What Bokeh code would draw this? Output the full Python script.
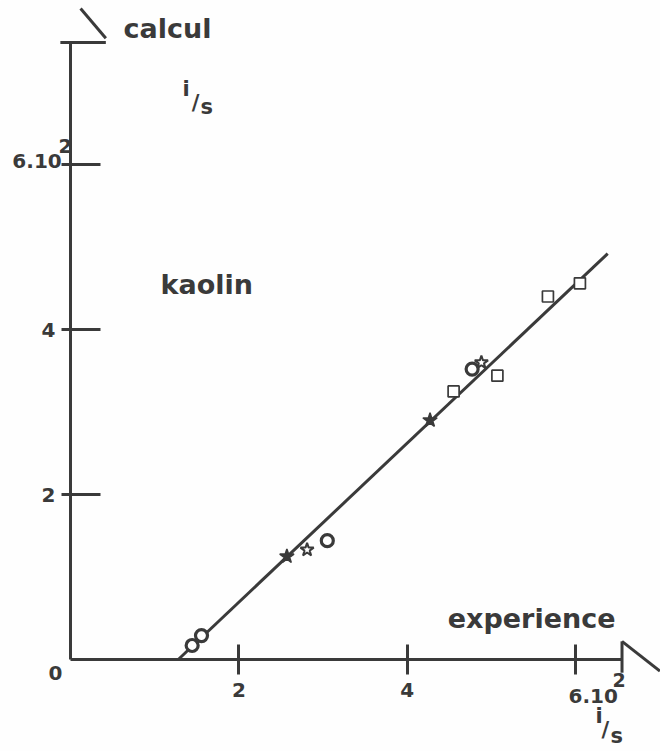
from bokeh.plotting import figure
from bokeh.models import LinearAxis, FixedTicker
from bokeh.core.properties import value
from bokeh.embed import file_html
from bokeh.resources import INLINE

# measured points, grouped by sample series (i/s, units of 10^2)
circle_x = [1.445, 1.556, 3.05, 4.77]
circle_y = [0.17, 0.29, 1.44, 3.52]
star_filled_x = [2.57, 4.27]
star_filled_y = [1.25, 2.90]
star_open_x = [2.81, 4.88]
star_open_y = [1.33, 3.60]
square_x = [4.55, 5.07, 5.67, 6.05]
square_y = [3.25, 3.44, 4.40, 4.56]

# fitted line (calcul vs experience)
fit_x = [1.28, 6.38]
fit_y = [0.0, 4.92]

# axis ticks and labels
x_ticks = [2, 4, 6]
y_ticks = [2, 4, 6]
x_tick_labels = {2: "2", 4: "4", 6: ""}
y_tick_labels = {2: "2", 4: "4", 6: ""}
x_axis_end = 6.55
y_axis_end = 7.48

INK = "#3a3a3a"
FONT = value("DejaVu Sans")

p = figure(width=660, height=751, x_range=(-0.831, 7.007), y_range=(-1.115, 7.988),
           x_axis_type=None, y_axis_type=None, toolbar_location=None,
           output_backend="svg", min_border=0, background_fill_color="#fefefe",
           border_fill_color="#fefefe", outline_line_color=None)
p.grid.visible = False

axis_style = dict(axis_line_color=INK, axis_line_width=3,
                  major_tick_line_color=INK, major_tick_line_width=3,
                  minor_tick_line_color=None,
                  major_label_text_font="DejaVu Sans",
                  major_label_text_font_style="bold",
                  major_label_text_font_size="20px",
                  major_label_text_color=INK)

yaxis = LinearAxis(fixed_location=0, bounds=(0, y_axis_end),
                   ticker=FixedTicker(ticks=y_ticks),
                   major_label_overrides=y_tick_labels,
                   major_tick_in=30, major_tick_out=9, major_label_standoff=6,
                   **axis_style)
p.add_layout(yaxis, "left")

xaxis = LinearAxis(fixed_location=0, bounds=(0, x_axis_end),
                   ticker=FixedTicker(ticks=x_ticks),
                   major_label_overrides=x_tick_labels,
                   major_tick_in=15, major_tick_out=15, major_label_standoff=8,
                   **axis_style)
p.add_layout(xaxis, "below")

# half-arrow heads at the axis ends
p.segment(x0=[-0.12, 0.42], y0=[y_axis_end, y_axis_end + 0.05],
          x1=[0.42, 0.12], y1=[y_axis_end, 7.89],
          line_color=INK, line_width=3)
p.segment(x0=[x_axis_end, x_axis_end], y0=[-0.16, 0.22],
          x1=[x_axis_end, 7.0], y1=[0.22, -0.14],
          line_color=INK, line_width=3)

# fitted line
p.line(fit_x, fit_y, line_color=INK, line_width=3)

# data points
p.scatter(square_x, square_y, marker="square", size=11, line_width=1.7,
          line_color=INK, fill_color="white")
p.scatter(circle_x, circle_y, marker="circle", size=12, line_width=3.2,
          line_color=INK, fill_color="white")
p.scatter(star_open_x, star_open_y, marker="star", size=14, line_width=2,
          line_color=INK, fill_color="white")
p.scatter(star_filled_x, star_filled_y, marker="star", size=15, line_width=1.5,
          line_color=INK, fill_color=INK)

# text annotations
def label(x, y, txt, size="27px"):
    p.text(x=[x], y=[y], text=[txt], text_font=FONT, text_font_style="bold",
           text_font_size=size, text_color=INK, text_align="left",
           text_baseline="alphabetic")

label(0.63, 7.65, "calcul")
label(1.33, 6.91, "i", size="21px")
label(1.44, 6.75, "/", size="21px")
label(1.545, 6.70, "s", size="21px")
label(1.07, 4.54, "kaolin")
label(4.48, 0.50, "experience")

label(-0.69, 6.04, "6.10", size="20px")
label(-0.143, 6.23, "2", size="19px")
label(-0.26, -0.16, "0", size="20px")

label(5.915, -0.44, "6.10", size="20px")
label(6.437, -0.25, "2", size="19px")
label(6.235, -0.69, "i", size="21px")
label(6.307, -0.86, "/", size="21px")
label(6.413, -0.93, "s", size="21px")

open("out.html", "w").write(file_html(p, INLINE))
